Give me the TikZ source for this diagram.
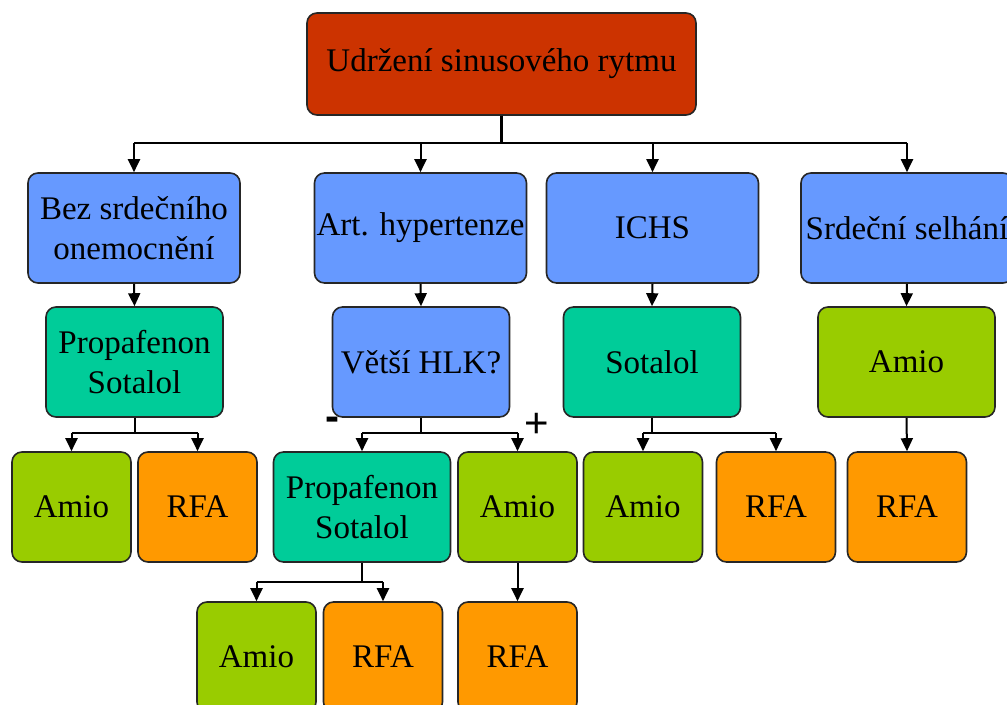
\documentclass[tikz,border=0pt]{standalone}
\usepackage{fontspec}
\setmainfont{Liberation Serif}
\setsansfont{Liberation Sans}
\usetikzlibrary{arrows.meta}

\definecolor{topred}{HTML}{CC3300}
\definecolor{diagblue}{HTML}{6699FF}
\definecolor{drugteal}{HTML}{00CC99}
\definecolor{amiogreen}{HTML}{99CC00}
\definecolor{rfaorange}{HTML}{FF9900}

\begin{document}
\begin{tikzpicture}[
    x=0.5pt, y=-0.5pt,
  box/.style={rectangle, rounded corners=5pt, draw=black!85, line width=0.8pt, minimum height=55pt, inner sep=0pt, text centered, align=center, font=\fontsize{16.5}{20}\selectfont},
  widebox/.style={box, minimum width=106pt, fill=diagblue},
  midbox/.style={box, minimum width=88.5pt},
  smallbox/.style={box, minimum width=59.5pt},
  arr/.style={-{Triangle[width=6pt,length=6.5pt]}, line width=1pt},
  stem/.style={line width=1pt},
  sign/.style={font=\sffamily\fontsize{21}{21}\selectfont, inner sep=0pt}
]
\useasboundingbox (0,0) rectangle (1007,705);

% Top node
\node[box, minimum width=194.5pt, minimum height=51pt, fill=topred] (top) at (501.5, 64) {Udržení sinusového rytmu};

% Diagnosis nodes
\node[widebox] (bez) at (134, 228) {Bez srdečního\\onemocnění};
\node[widebox] (art) at (420.5, 228) {Art. hypertenze};
\node[widebox] (ichs) at (652.5, 228) {ICHS};
\node[widebox] (selh) at (907, 228) {Srdeční selhání};

% First line drugs
\node[midbox, fill=drugteal] (propa) at (134.5, 362) {Propafenon\\Sotalol};
\node[midbox, fill=diagblue] (hlk) at (421, 362) {Větší HLK?};
\node[midbox, fill=drugteal] (sota) at (652, 362) {Sotalol};
\node[midbox, fill=amiogreen] (amio) at (906.5, 362) {Amio};

% Second line
\node[smallbox, fill=amiogreen] (amioA) at (71.5, 507) {Amio};
\node[smallbox, fill=rfaorange] (rfaA) at (197.5, 507) {RFA};
\node[midbox, fill=drugteal] (propaB) at (362, 507) {Propafenon\\Sotalol};
\node[smallbox, fill=amiogreen] (amioB) at (517.5, 507) {Amio};
\node[smallbox, fill=amiogreen] (amioC) at (643, 507) {Amio};
\node[smallbox, fill=rfaorange] (rfaC) at (776, 507) {RFA};
\node[smallbox, fill=rfaorange] (rfaD) at (907, 507) {RFA};

% Third line
\node[smallbox, fill=amiogreen] (amioE) at (256.5, 657) {Amio};
\node[smallbox, fill=rfaorange] (rfaE) at (383, 657) {RFA};
\node[smallbox, fill=rfaorange] (rfaF) at (517.5, 657) {RFA};

% Bus lines
\coordinate (bus1) at (0, 143);
\coordinate (bus2) at (0, 433);
\coordinate (bus3) at (0, 582);

% Arrows from top
\draw[line width=1.2pt] (top.south) -- (top.south |- bus1);
\draw[line width=1.2pt] (bez.north |- bus1) -- (selh.north |- bus1);
\foreach \n in {bez, art, ichs, selh}
  \draw[arr] (\n.north |- bus1) -- (\n.north);

% Arrows to first line
\draw[arr] (bez.south) -- (propa.north);
\draw[arr] (art.south) -- (hlk.north);
\draw[arr] (ichs.south) -- (sota.north);
\draw[arr] (selh.south) -- (amio.north);

% Arrows to second line
\draw[stem] (propa.south) -- (propa.south |- bus2);
\draw[stem] (amioA.north |- bus2) -- (rfaA.north |- bus2);
\draw[arr] (amioA.north |- bus2) -- (amioA.north);
\draw[arr] (rfaA.north |- bus2) -- (rfaA.north);

\draw[stem] (hlk.south) -- (hlk.south |- bus2);
\draw[stem] (propaB.north |- bus2) -- (amioB.north |- bus2);
\draw[arr] (propaB.north |- bus2) -- (propaB.north);
\draw[arr] (amioB.north |- bus2) -- (amioB.north);

\draw[stem] (sota.south) -- (sota.south |- bus2);
\draw[stem] (amioC.north |- bus2) -- (rfaC.north |- bus2);
\draw[arr] (amioC.north |- bus2) -- (amioC.north);
\draw[arr] (rfaC.north |- bus2) -- (rfaC.north);

\draw[arr] (amio.south) -- (rfaD.north);

% Arrows to third line
\draw[stem] (propaB.south) -- (propaB.south |- bus3);
\draw[stem] (amioE.north |- bus3) -- (rfaE.north |- bus3);
\draw[arr] (amioE.north |- bus3) -- (amioE.north);
\draw[arr] (rfaE.north |- bus3) -- (rfaE.north);
\draw[arr] (amioB.south) -- (rfaF.north);

% Signs
\node[sign, font=\sffamily\bfseries\fontsize{21}{21}\selectfont] (minus) at (332, 424) {-};
\node[sign] (plus) at (537, 425) {+};

\end{tikzpicture}
\end{document}
